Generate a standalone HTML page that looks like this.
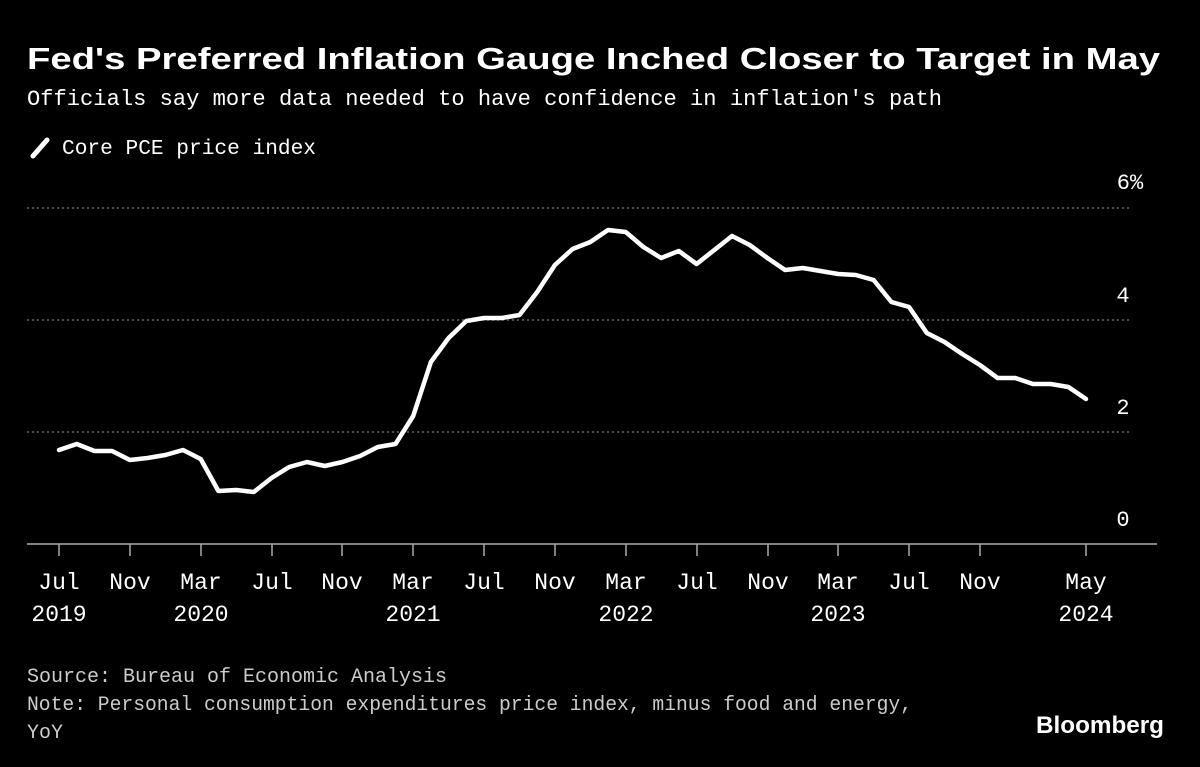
<!DOCTYPE html>
<html><head><meta charset="utf-8"><style>
html,body{margin:0;padding:0;background:#000;}
svg{display:block}
</style></head><body>
<svg width="1200" height="767" viewBox="0 0 1200 767" xmlns="http://www.w3.org/2000/svg">
<rect width="1200" height="767" fill="#000"/>
<text x="27" y="69" fill="#fff" font-family="Liberation Sans, sans-serif" font-weight="bold" font-size="31" textLength="1133" lengthAdjust="spacingAndGlyphs">Fed's Preferred Inflation Gauge Inched Closer to Target in May</text>
<text x="27" y="105" fill="#fff" font-family="Liberation Mono, monospace" font-size="22" textLength="915" lengthAdjust="spacingAndGlyphs">Officials say more data needed to have confidence in inflation's path</text>
<line x1="33" y1="156" x2="47" y2="140" stroke="#fff" stroke-width="5" stroke-linecap="round"/>
<text x="62" y="154" fill="#fff" font-family="Liberation Mono, monospace" font-size="21" textLength="254" lengthAdjust="spacingAndGlyphs">Core PCE price index</text>
<g stroke="#666" stroke-width="1.5" stroke-dasharray="2,3">
<line x1="27" y1="208" x2="1132" y2="208"/>
<line x1="27" y1="320" x2="1132" y2="320"/>
<line x1="27" y1="432" x2="1132" y2="432"/>
</g>
<line x1="27" y1="544" x2="1157" y2="544" stroke="#aaa" stroke-width="1.5"/>
<g fill="#fff" font-family="Liberation Mono, monospace" font-size="22" text-anchor="middle">
<text x="1130" y="189">6%</text>
<text x="1123" y="302">4</text>
<text x="1123" y="414">2</text>
<text x="1123" y="526">0</text>
</g>
<g stroke="#aaa" stroke-width="1.5">
<line x1="59" y1="544" x2="59" y2="556"/><line x1="130" y1="544" x2="130" y2="556"/>
<line x1="201" y1="544" x2="201" y2="556"/><line x1="272" y1="544" x2="272" y2="556"/>
<line x1="342" y1="544" x2="342" y2="556"/><line x1="413" y1="544" x2="413" y2="556"/>
<line x1="484" y1="544" x2="484" y2="556"/><line x1="555" y1="544" x2="555" y2="556"/>
<line x1="626" y1="544" x2="626" y2="556"/><line x1="697" y1="544" x2="697" y2="556"/>
<line x1="768" y1="544" x2="768" y2="556"/><line x1="838" y1="544" x2="838" y2="556"/>
<line x1="909" y1="544" x2="909" y2="556"/><line x1="980" y1="544" x2="980" y2="556"/>
<line x1="1086" y1="544" x2="1086" y2="556"/>
</g>
<g fill="#fff" font-family="Liberation Mono, monospace" font-size="23" text-anchor="middle">
<text x="59" y="589">Jul</text><text x="130" y="589">Nov</text><text x="201" y="589">Mar</text>
<text x="272" y="589">Jul</text><text x="342" y="589">Nov</text><text x="413" y="589">Mar</text>
<text x="484" y="589">Jul</text><text x="555" y="589">Nov</text><text x="626" y="589">Mar</text>
<text x="697" y="589">Jul</text><text x="768" y="589">Nov</text><text x="838" y="589">Mar</text>
<text x="909" y="589">Jul</text><text x="980" y="589">Nov</text><text x="1086" y="589">May</text>
<text x="59" y="621">2019</text><text x="201" y="621">2020</text><text x="413" y="621">2021</text>
<text x="626" y="621">2022</text><text x="838" y="621">2023</text><text x="1086" y="621">2024</text>
</g>
<polyline fill="none" stroke="#fff" stroke-width="4.5" stroke-linejoin="round" stroke-linecap="round" points="
59,450 76.7,444 94.4,451 112.1,451 129.8,460 147.6,458 165.3,455 183,450 200.7,459 218.4,491 236.1,490 253.8,492 271.5,478 289.2,467 307,462 324.7,466 342.4,462 360.1,456 377.8,447 395.5,444 413.2,416 430.9,362 448.6,338 466.3,321 484,318 501.8,318 519.5,315 537.2,292 554.9,265 572.6,249 590.3,242 608,230 625.7,232 643.4,247 661.1,258 678.8,251 696.6,264 714.3,250 732,236 749.7,245 767.4,258 785.1,270 802.8,268 820.5,271 838.2,274 855.9,275 873.6,280 891.4,302 909.1,307 926.8,333 944.5,342 962.2,354 979.9,365 997.6,378 1015.3,378 1033,384 1050.7,384 1068.4,387 1086,399"/>
<g fill="#ccc" font-family="Liberation Mono, monospace" font-size="20">
<text x="27" y="682" textLength="420" lengthAdjust="spacingAndGlyphs">Source: Bureau of Economic Analysis</text>
<text x="27" y="710" textLength="885" lengthAdjust="spacingAndGlyphs">Note: Personal consumption expenditures price index, minus food and energy,</text>
<text x="27" y="738">YoY</text>
</g>
<text x="1164" y="733" fill="#fff" font-family="Liberation Sans, sans-serif" font-weight="bold" font-size="24" text-anchor="end" textLength="128" lengthAdjust="spacingAndGlyphs">Bloomberg</text>
</svg>
</body></html>
